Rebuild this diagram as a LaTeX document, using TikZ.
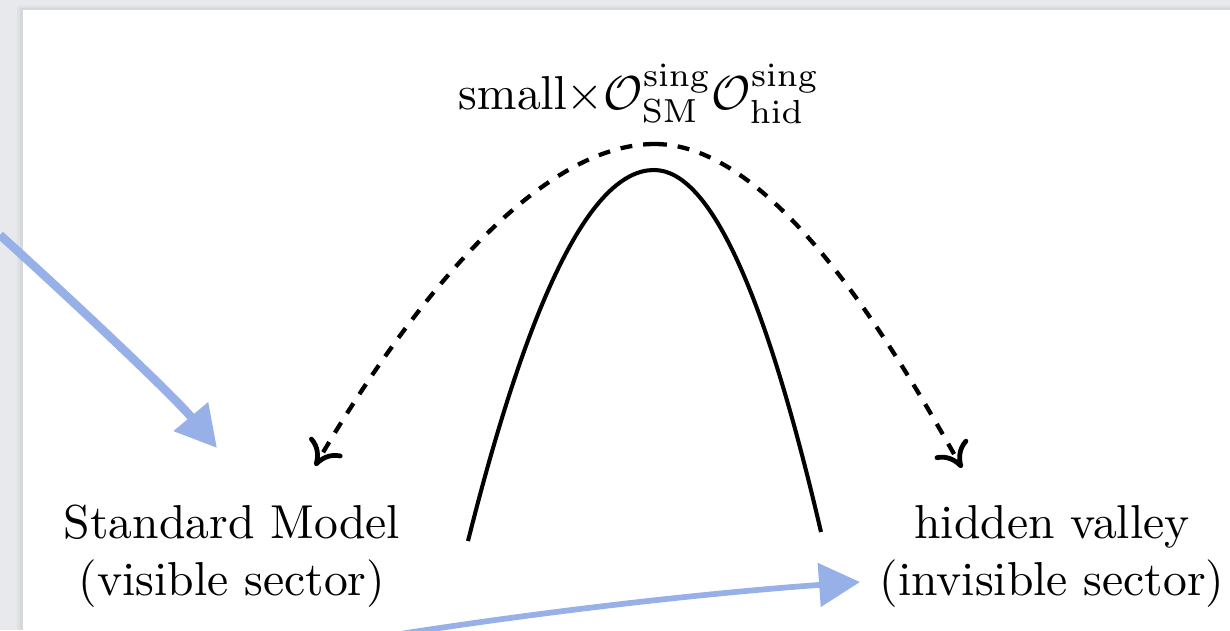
\documentclass[tikz,border=0pt]{standalone}
\usetikzlibrary{arrows.meta}
\definecolor{bgray}{RGB}{231,233,237}
\definecolor{sgray}{RGB}{212,215,220}
\definecolor{hlblue}{RGB}{151,176,232}
\begin{document}
\begin{tikzpicture}[x=0.21pt,y=-0.21pt,
  lbl/.style={align=center,inner sep=0pt},
  curvearc/.style={line width=0.85pt},
  dasharrow/.style={line width=0.9pt, dash pattern=on 2.5pt off 2.3pt,
    -{Computer Modern Rightarrow[length=5pt,width=8pt,line width=1pt]}},
  bluearrow/.style={draw=hlblue, line width=#1,
    -{Triangle[length=8.6pt,width=9pt,fill=hlblue]}}]
\useasboundingbox (0,0) rectangle (1230,630);
\clip (0,0) rectangle (1230,630);
% page background with shadow
\fill[bgray] (0,0) rectangle (1230,630);
\fill[sgray!50!bgray] (17,6) rectangle (1230,630);
\fill[sgray] (20,8) rectangle (1230,630);
\fill[white] (23,10) rectangle (1230,630);
% nodes
\node[lbl] (sm) at (232,556) {Standard Model\\(visible sector)};
\node[lbl] (hv) at (1052,556) {hidden valley\\(invisible sector)};
\node[anchor=base,inner sep=0pt] (op) at (639,109)
  {$\mathrm{small}{\times}\mathcal{O}^{\mathrm{sing}}_{\mathrm{SM}}\mathcal{O}^{\mathrm{sing}}_{\mathrm{hid}}$};
% solid barrier
\coordinate (sL) at (468,541);
\coordinate (sT) at (654,170);
\coordinate (sR) at (821,532);
\draw[curvearc] (sL) .. controls (530,294) and (592,170) .. (sT)
  .. controls (710,170) and (765,292) .. (sR);
% dashed tunnelling arrows
\coordinate (top) at (655,144);
\coordinate (tipL) at (315,466);
\coordinate (tipR) at (962,468);
\draw[dasharrow] (top) .. controls (520,144) and (380,355) .. (tipL);
\draw[dasharrow] (top) .. controls (780,144) and (905,368) .. (tipR);
% blue highlight arrows
\coordinate (bA) at (0,235);
\coordinate (bAt) at (217,448);
\draw[bluearrow=1.8pt] (bA) .. controls (60,289) and (172,394) .. (bAt);
\coordinate (bB) at (400,634);
\coordinate (bBt) at (860,582);
\draw[bluearrow=1.2pt] (bB) .. controls (560,609) and (720,592) .. (bBt);
\end{tikzpicture}
\end{document}
